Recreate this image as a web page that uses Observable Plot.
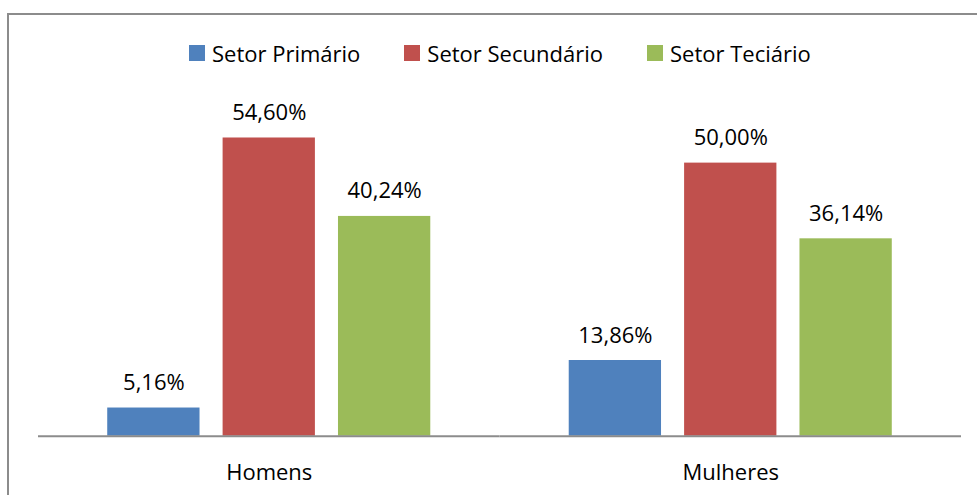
<!DOCTYPE html>
<html>
<head>
<meta charset="utf-8">
<script src="https://cdn.jsdelivr.net/npm/d3@7"></script>
<script src="https://cdn.jsdelivr.net/npm/@observablehq/plot@0.6"></script>
<style>
  html, body { margin: 0; padding: 0; background: #fff; width: 977px; height: 495px; overflow: hidden; }
  #frame { position: absolute; left: 7px; top: 13px; width: 1100px; height: 700px; border: 2px solid #8c8c8c; box-sizing: border-box; }
  #chart { position: absolute; left: 0; top: 0; }
  #legend { position: absolute; left: 189px; top: 38px; display: flex; align-items: center;
            font-family: "Open Sans", sans-serif; font-size: 22px; line-height: 30px; color: #000; white-space: nowrap; }
  #legend .item { display: flex; align-items: center; margin-right: 44px; }
  #legend .sw { width: 16px; height: 16px; margin-right: 7px; }
</style>
</head>
<body>
<div id="frame"></div>
<div id="chart"></div>
<div id="legend"></div>
<script>
const groups = ["Homens", "Mulheres"];
const sectors = ["Setor Primário", "Setor Secundário", "Setor Teciário"];
const colors = ["#4F81BD", "#C0504D", "#9BBB59"];
const homens = [5.16, 54.60, 40.24];
const mulheres = [13.86, 50.00, 36.14];

const seriesByGroup = [homens, mulheres];
const rows = [];
groups.forEach((g, gi) => {
  sectors.forEach((s, si) => rows.push({group: g, sector: s, value: seriesByGroup[gi][si]}));
});
const fmt = v => v.toFixed(2).replace(".", ",") + "%";

const plot = Plot.plot({
  width: 977,
  height: 495,
  marginLeft: 38,
  marginRight: 16,
  marginTop: 108,
  marginBottom: 59.3,
  style: {fontFamily: "Open Sans, sans-serif", fontSize: "22px", color: "#000", background: "transparent", overflow: "visible"},
  facet: {data: rows, x: "group"},
  fx: {domain: groups, padding: 0, round: false, axis: "bottom", label: null, tickSize: 0, tickPadding: 28},
  x: {domain: sectors, paddingInner: 0.2, paddingOuter: 0.6, round: false, axis: null},
  y: {domain: [0, 60], axis: null},
  color: {domain: sectors, range: colors},
  marks: [
    Plot.barY(rows, {x: "sector", y: "value", fill: "sector"}),
    Plot.text(rows, {x: "sector", y: "value", text: d => fmt(d.value), dy: -18, lineAnchor: "bottom", fill: "#000", fontSize: 22}),
    Plot.ruleY([0], {stroke: "#8c8c8c", strokeWidth: 2})
  ]
});
document.getElementById("chart").appendChild(plot);

const legend = d3.select("#legend");
sectors.forEach((s, i) => {
  const item = legend.append("div").attr("class", "item");
  item.append("div").attr("class", "sw").style("background", colors[i]);
  item.append("span").text(s);
});
</script>
</body>
</html>
